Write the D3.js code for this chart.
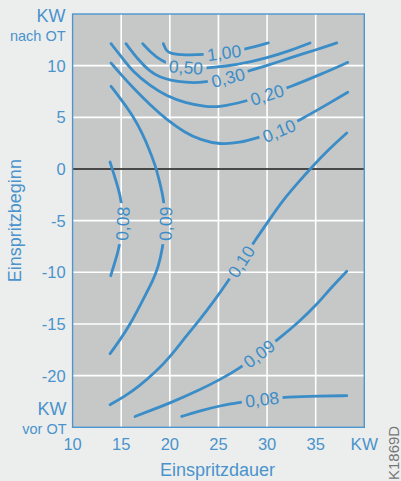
<!DOCTYPE html>
<html><head><meta charset="utf-8">
<script src="https://cdn.jsdelivr.net/npm/d3@7"></script>
<style>
body{margin:0;background:#eceeed;}
svg{display:block;font-family:"Liberation Sans",Arial,Helvetica,sans-serif;}
</style>
</head><body>
<svg id="c" width="401" height="481"></svg>
<script>
// ---- data ----
const xTicks = [10, 15, 20, 25, 30, 35];
const yTicks = [-20, -15, -10, -5, 0, 5, 10];
const xDomain = [10, 40];
const yDomain = [-25, 15];

// contour lines [Einspritzdauer (KW), Einspritzbeginn (KW)]
const c100 = [[19.33,12.13],[19.6,11.5],[20.02,11.16],[21.56,11.02],[23.45,11.06],[25.58,11.26],[27.91,11.62],[30.13,12.2]];
const c050 = [[17.21,12.13],[17.96,11.36],[19.17,10.42],[20.53,9.95],[21.67,9.85],[23.11,9.76],[24.02,9.78],[27.11,10.1],[29.97,10.75],[32.37,11.45],[34.42,12.2]];
const c030 = [[15.49,12.13],[16.73,10.58],[17.96,9.42],[18.99,8.89],[20.02,8.6],[21.56,8.37],[23.42,8.33],[25.99,8.84],[27.96,9.45],[30.31,10.1],[32.37,10.77],[34.94,11.5],[37.17,12.2]];
const c020 = [[13.95,12.13],[15.08,10.77],[16.21,9.4],[17.96,8.05],[19.68,7.05],[21.56,6.4],[23.62,6.03],[25.16,5.98],[27.73,6.54],[30.0,7.19],[32.37,7.94],[35.45,9.13],[38.3,10.32]];
const c010a = [[13.95,10.26],[15.08,9.03],[16.24,7.84],[17.96,6.22],[19.68,4.77],[21.56,3.51],[23.11,2.84],[25.16,2.35],[27.22,2.55],[28.94,3.0],[31.23,3.7],[33.57,4.84],[35.97,6.13],[38.3,7.42]];
const c009a = [[13.95,8.0],[15.08,6.61],[16.24,5.09],[17.24,3.32],[17.89,1.87],[18.48,0.42],[18.9,-1.04],[19.4,-2.97],[19.56,-5.3],[19.27,-7.65],[18.79,-9.56],[18.3,-10.72],[17.24,-12.65],[15.91,-15.07],[14.88,-16.53],[13.85,-17.88]];
const c008a = [[13.85,0.68],[14.26,-0.55],[14.67,-1.8],[15.05,-3.14],[15.13,-5.3],[14.8,-7.65],[14.36,-8.98],[13.92,-10.33]];
const c010b = [[38.2,3.48],[36.31,1.87],[34.42,0.0],[33.09,-1.42],[31.68,-2.97],[30.31,-4.81],[28.77,-6.91],[27.33,-8.97],[25.85,-11.03],[24.65,-12.65],[22.9,-14.8],[21.56,-16.3],[20.02,-18.2],[18.48,-19.7],[16.93,-20.95],[15.39,-22.0],[13.85,-22.81]];
const c009b = [[38.2,-9.9],[36.48,-11.59],[35.11,-13.14],[33.19,-14.88],[31.16,-16.46],[29.18,-17.88],[27.22,-19.26],[25.16,-20.39],[23.11,-21.36],[20.02,-22.65],[17.96,-23.4],[16.42,-23.95]];
const c008b = [[38.2,-21.94],[35.45,-21.97],[32.03,-22.07],[29.49,-22.28],[27.22,-22.59],[25.16,-22.91],[23.11,-23.4],[21.22,-23.95]];

// label text and index of the point where it sits on its line
const contours = [
  {pts: c100,  label: "1,00", at: 5},
  {pts: c050,  label: "0,50", at: 4},
  {pts: c030,  label: "0,30", at: 7},
  {pts: c020,  label: "0,20", at: 9},
  {pts: c010a, label: "0,10", at: 10},
  {pts: c009a, label: "0,09", at: 8},
  {pts: c008a, label: "0,08", at: 4},
  {pts: c010b, label: "0,10", at: 7},
  {pts: c009b, label: "0,09", at: 5},
  {pts: c008b, label: "0,08", at: 3}
];

// ---- drawing ----
const svg = d3.select("#c");
const blue = "#3b8dc8";
const txt = "#4a93cc";
const m = {l: 72.6, r: 364.3, t: 14, b: 427.3};
const x = d3.scaleLinear().domain(xDomain).range([m.l, m.r]);
const y = d3.scaleLinear().domain(yDomain).range([m.b, m.t]);

svg.append("rect").attr("x", x(10)).attr("y", y(15))
  .attr("width", x(40) - x(10)).attr("height", y(-25) - y(15))
  .attr("fill", "#c6c7c7");

// grid
svg.append("g").selectAll("line").data(xTicks.slice(1)).join("line")
  .attr("x1", d => x(d)).attr("x2", d => x(d)).attr("y1", y(15)).attr("y2", y(-25))
  .attr("stroke", "#fff").attr("stroke-width", 1.6);
svg.append("g").selectAll("line").data(yTicks).join("line")
  .attr("x1", x(10)).attr("x2", x(40)).attr("y1", d => y(d)).attr("y2", d => y(d))
  .attr("stroke", "#fff").attr("stroke-width", 1.6);
// zero line
svg.append("line").attr("x1", x(10)).attr("x2", x(40)).attr("y1", y(0)).attr("y2", y(0))
  .attr("stroke", "#111").attr("stroke-width", 1.5);

// labels and masks
const defs = svg.append("defs");
const mask = defs.append("mask").attr("id", "gaps").attr("maskUnits", "userSpaceOnUse")
  .attr("x", 0).attr("y", 0).attr("width", 401).attr("height", 481);
mask.append("rect").attr("width", 401).attr("height", 481).attr("fill", "#fff");

const lineGen = d3.line().x(d => x(d[0])).y(d => y(d[1])).curve(d3.curveBasis);
const gLines = svg.append("g").attr("mask", "url(#gaps)");
const gLabels = svg.append("g");

contours.forEach(c => {
  gLines.append("path").attr("d", lineGen(c.pts)).attr("fill", "none")
    .attr("stroke", blue).attr("stroke-width", 2.8).attr("stroke-linecap", "round");
  const p = c.pts[c.at], p0 = c.pts[c.at - 1], p1 = c.pts[c.at + 1];
  let a = Math.atan2(y(p1[1]) - y(p0[1]), x(p1[0]) - x(p0[0])) * 180 / Math.PI;
  while (a > 80) a -= 180;
  while (a < -100) a += 180;
  const px = x(p[0]), py = y(p[1]);
  const t = gLabels.append("text").attr("transform", `translate(${px},${py}) rotate(${a})`)
    .attr("text-anchor", "middle").attr("dy", "0.36em")
    .attr("font-size", 17.5).attr("fill", blue).text(c.label);
  const w = t.node().getComputedTextLength() + 7;
  mask.append("rect").attr("transform", `translate(${px},${py}) rotate(${a})`)
    .attr("x", -w / 2).attr("y", -9).attr("width", w).attr("height", 18).attr("fill", "#000");
});

// frame
svg.append("rect").attr("x", x(10)).attr("y", y(15))
  .attr("width", x(40) - x(10)).attr("height", y(-25) - y(15))
  .attr("fill", "none").attr("stroke", "#4d97d1").attr("stroke-width", 1.4);

// axis texts
svg.append("g").selectAll("text").data(xTicks).join("text")
  .attr("x", d => x(d)).attr("y", y(-25) + 23).attr("text-anchor", "middle")
  .attr("font-size", 16.5).attr("fill", txt).text(d => d);
svg.append("text").attr("x", x(40)).attr("y", y(-25) + 23).attr("text-anchor", "middle")
  .attr("font-size", 17).attr("fill", txt).text("KW");
svg.append("g").selectAll("text").data(yTicks).join("text")
  .attr("x", x(10) - 7).attr("y", d => y(d)).attr("dy", "0.36em").attr("text-anchor", "end")
  .attr("font-size", 16.5).attr("fill", txt).text(d => d < 0 ? "-" + Math.abs(d) : d);
svg.append("text").attr("x", x(10) - 7).attr("y", y(15) + 8).attr("text-anchor", "end")
  .attr("font-size", 18).attr("fill", txt).text("KW");
svg.append("text").attr("x", x(10) - 7).attr("y", y(15) + 27).attr("text-anchor", "end")
  .attr("font-size", 14.5).attr("fill", txt).text("nach OT");
svg.append("text").attr("x", x(10) - 6).attr("y", y(-25) - 12).attr("text-anchor", "end")
  .attr("font-size", 18).attr("fill", txt).text("KW");
svg.append("text").attr("x", x(10) - 6).attr("y", y(-25) + 7).attr("text-anchor", "end")
  .attr("font-size", 14.5).attr("fill", txt).text("vor OT");
svg.append("text").attr("x", 217.5).attr("y", 476).attr("text-anchor", "middle")
  .attr("font-size", 18).attr("fill", txt).text("Einspritzdauer");
svg.append("text").attr("transform", `translate(21,${y(-5)}) rotate(-90)`).attr("text-anchor", "middle")
  .attr("font-size", 18).attr("fill", txt).text("Einspritzbeginn");
svg.append("text").attr("transform", `translate(399,480) rotate(-90)`).attr("text-anchor", "start")
  .attr("font-size", 15).attr("fill", "#777").text("K1869D");
</script>
</body></html>
